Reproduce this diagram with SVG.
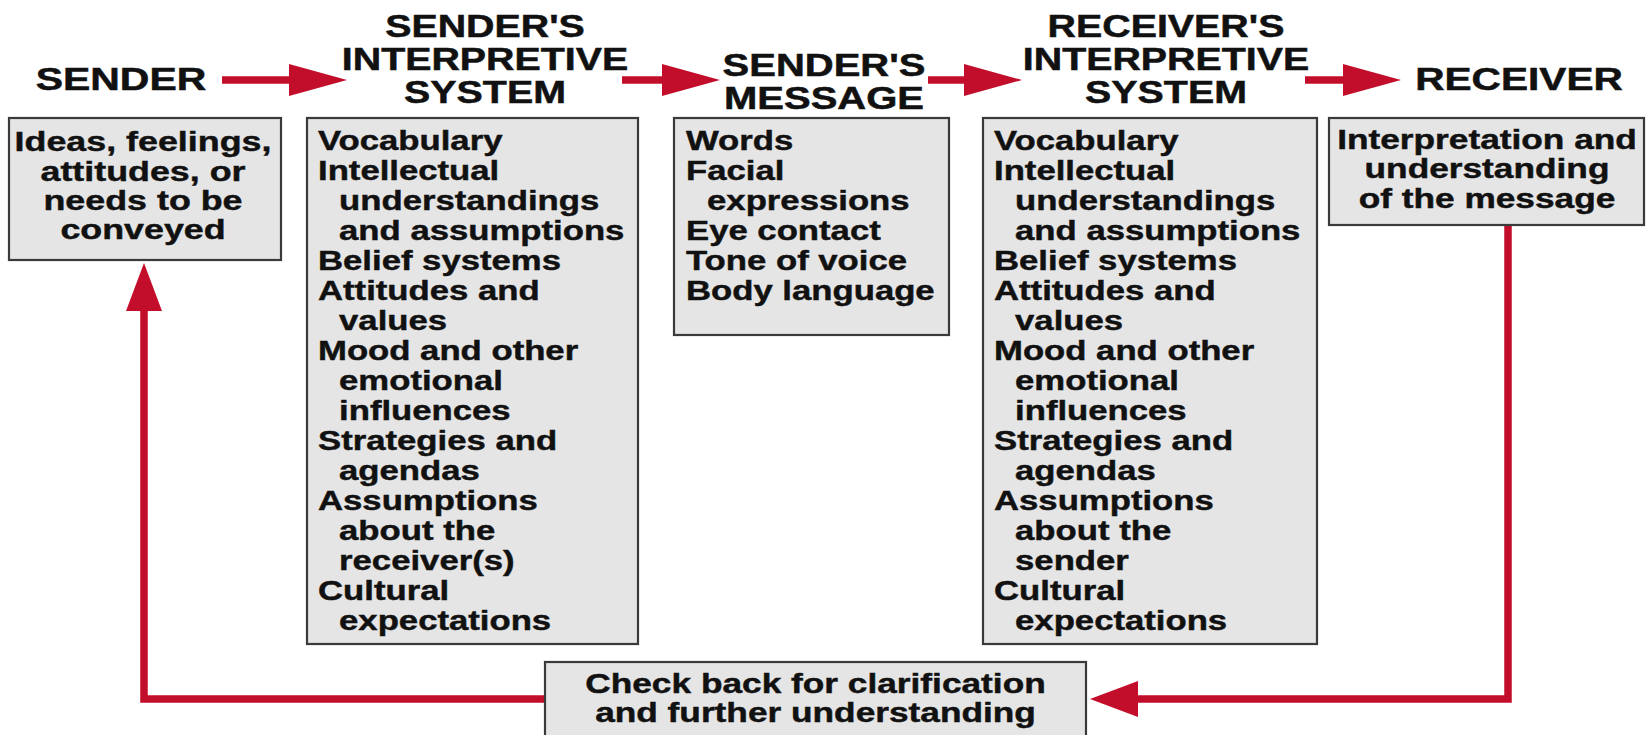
<svg xmlns="http://www.w3.org/2000/svg" width="1652" height="735" viewBox="0 0 1652 735">
<defs>
<style>
.box{fill:#e5e5e5;stroke:#3a3a3a;stroke-width:2.2}
.hd{font-family:"Liberation Sans",Arial,sans-serif;font-weight:bold;font-size:32px;fill:#111;stroke:#111;stroke-width:0.5;text-anchor:middle}
.tx{font-family:"Liberation Sans",Arial,sans-serif;font-weight:bold;font-size:28px;fill:#111;stroke:#111;stroke-width:0.45}
.c{text-anchor:middle}
.ln{fill:none;stroke:#c20e2a;stroke-width:7.5}
</style>
<marker id="ah" markerUnits="userSpaceOnUse" markerWidth="60" markerHeight="32" viewBox="0 0 60 32" refX="1" refY="16" orient="auto" overflow="visible">
<path d="M0,0 L58,16 L0,32 Z" fill="#c20e2a"/>
</marker>
<marker id="fb" markerUnits="userSpaceOnUse" markerWidth="50" markerHeight="36" viewBox="0 0 50 36" refX="1" refY="18" orient="auto" overflow="visible">
<path d="M0,0 L48,18 L0,36 Z" fill="#c20e2a"/>
</marker>
</defs>
<rect width="1652" height="735" fill="#fff"/>

<g id="connectors">
<path class="ln" d="M222,80 H290" marker-end="url(#ah)"/>
<path class="ln" d="M622,80 H663" marker-end="url(#ah)"/>
<path class="ln" d="M928,80 H965" marker-end="url(#ah)"/>
<path class="ln" d="M1305,80 H1344" marker-end="url(#ah)"/>
<path class="ln" d="M1508,225 V699 H1137" marker-end="url(#fb)"/>
<path class="ln" d="M545,699 H144 V310" marker-end="url(#fb)"/>
</g>

<g id="sender">
<g transform="translate(121,0) scale(1.28,1)"><text class="hd" x="0" y="90">SENDER</text></g>
<rect class="box" x="9" y="118" width="272" height="142"/>
<g transform="translate(143,0) scale(1.28,1)">
<text class="tx c" x="0" y="151">Ideas, feelings,</text>
<text class="tx c" x="0" y="181">attitudes, or</text>
<text class="tx c" x="0" y="210">needs to be</text>
<text class="tx c" x="0" y="239">conveyed</text>
</g>
</g>

<g id="sender-interpretive">
<g transform="translate(485,0) scale(1.23,1)">
<text class="hd" x="0" y="37">SENDER'S</text>
<text class="hd" x="0" y="70">INTERPRETIVE</text>
<text class="hd" x="0" y="103">SYSTEM</text>
</g>
<rect class="box" x="307" y="118" width="331" height="526"/>
<g transform="translate(318,0) scale(1.24,1)">
<text class="tx" x="0" y="150">Vocabulary</text>
<text class="tx" x="0" y="180">Intellectual</text>
<text class="tx" x="17" y="210">understandings</text>
<text class="tx" x="17" y="240">and assumptions</text>
<text class="tx" x="0" y="270">Belief systems</text>
<text class="tx" x="0" y="300">Attitudes and</text>
<text class="tx" x="17" y="330">values</text>
<text class="tx" x="0" y="360">Mood and other</text>
<text class="tx" x="17" y="390">emotional</text>
<text class="tx" x="17" y="420">influences</text>
<text class="tx" x="0" y="450">Strategies and</text>
<text class="tx" x="17" y="480">agendas</text>
<text class="tx" x="0" y="510">Assumptions</text>
<text class="tx" x="17" y="540">about the</text>
<text class="tx" x="17" y="570">receiver(s)</text>
<text class="tx" x="0" y="600">Cultural</text>
<text class="tx" x="17" y="630">expectations</text>
</g>
</g>

<g id="sender-message">
<g transform="translate(824,0) scale(1.25,1)">
<text class="hd" x="0" y="76">SENDER'S</text>
<text class="hd" x="0" y="109">MESSAGE</text>
</g>
<rect class="box" x="674" y="118" width="275" height="217"/>
<g transform="translate(686,0) scale(1.24,1)">
<text class="tx" x="0" y="150">Words</text>
<text class="tx" x="0" y="180">Facial</text>
<text class="tx" x="17" y="210">expressions</text>
<text class="tx" x="0" y="240">Eye contact</text>
<text class="tx" x="0" y="270">Tone of voice</text>
<text class="tx" x="0" y="300">Body language</text>
</g>
</g>

<g id="receiver-interpretive">
<g transform="translate(1166,0) scale(1.23,1)">
<text class="hd" x="0" y="37">RECEIVER'S</text>
<text class="hd" x="0" y="70">INTERPRETIVE</text>
<text class="hd" x="0" y="103">SYSTEM</text>
</g>
<rect class="box" x="983" y="118" width="334" height="526"/>
<g transform="translate(994,0) scale(1.24,1)">
<text class="tx" x="0" y="150">Vocabulary</text>
<text class="tx" x="0" y="180">Intellectual</text>
<text class="tx" x="17" y="210">understandings</text>
<text class="tx" x="17" y="240">and assumptions</text>
<text class="tx" x="0" y="270">Belief systems</text>
<text class="tx" x="0" y="300">Attitudes and</text>
<text class="tx" x="17" y="330">values</text>
<text class="tx" x="0" y="360">Mood and other</text>
<text class="tx" x="17" y="390">emotional</text>
<text class="tx" x="17" y="420">influences</text>
<text class="tx" x="0" y="450">Strategies and</text>
<text class="tx" x="17" y="480">agendas</text>
<text class="tx" x="0" y="510">Assumptions</text>
<text class="tx" x="17" y="540">about the</text>
<text class="tx" x="17" y="570">sender</text>
<text class="tx" x="0" y="600">Cultural</text>
<text class="tx" x="17" y="630">expectations</text>
</g>
</g>

<g id="receiver">
<g transform="translate(1519,0) scale(1.27,1)"><text class="hd" x="0" y="90">RECEIVER</text></g>
<rect class="box" x="1329" y="118" width="315" height="107"/>
<g transform="translate(1487,0) scale(1.26,1)">
<text class="tx c" x="0" y="149">Interpretation and</text>
<text class="tx c" x="0" y="178.5">understanding</text>
<text class="tx c" x="0" y="208">of the message</text>
</g>
</g>

<g id="check-back">
<rect class="box" x="545" y="662" width="541" height="80"/>
<g transform="translate(815.5,0) scale(1.26,1)">
<text class="tx c" x="0" y="693">Check back for clarification</text>
<text class="tx c" x="0" y="722">and further understanding</text>
</g>
</g>
</svg>
